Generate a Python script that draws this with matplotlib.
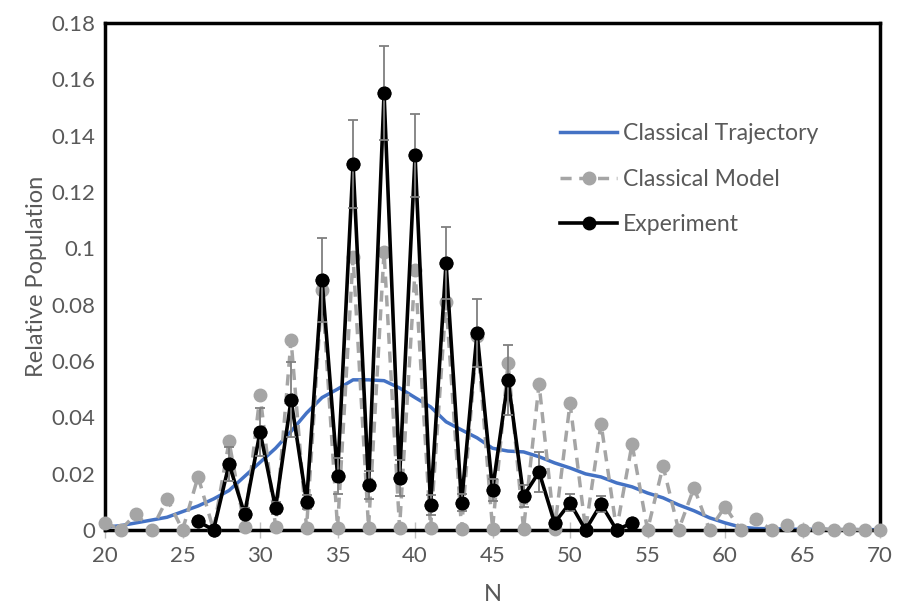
import matplotlib
matplotlib.use('Agg')
import matplotlib.pyplot as plt

plt.rcParams['font.family'] = ['Lato', 'DejaVu Sans']

# N values
n_all = list(range(20, 71))
n_exp = list(range(26, 55))

# Classical Trajectory (smooth blue curve)
trajectory = [0.001, 0.0015, 0.0025, 0.0035, 0.0045, 0.0065, 0.0085, 0.011, 0.014, 0.019,
              0.024, 0.029, 0.035, 0.0415, 0.047, 0.050, 0.0533, 0.0533, 0.053, 0.0504,
              0.047, 0.0437, 0.0384, 0.0355, 0.0327, 0.029, 0.028, 0.0277, 0.026, 0.0238,
              0.022, 0.0199, 0.0188, 0.0167, 0.0153, 0.0131, 0.0114, 0.0089, 0.0068, 0.0043,
              0.0025, 0.001, 0.0005, 0.0004, 0.0003, 0.0002, 0.0002, 0.0001, 0.0001, 0.0001,
              0.0001]

# Classical Model (grey dashed with markers)
model = [0.0026, 0.0, 0.0057, 0.0, 0.011, 0.0, 0.0189, 0.0, 0.0314, 0.0012,
         0.048, 0.0012, 0.0675, 0.0007, 0.0853, 0.0007, 0.097, 0.0008, 0.0988, 0.0007,
         0.0924, 0.0006, 0.081, 0.0005, 0.069, 0.0004, 0.0593, 0.0003, 0.0519, 0.0002,
         0.045, 0.0001, 0.0377, 0.0001, 0.0305, 0.0, 0.0227, 0.0, 0.015, 0.0,
         0.0083, 0.0, 0.0039, 0.0, 0.0018, 0.0, 0.0007, 0.0, 0.0003, 0.0,
         0.0]

# Experiment with error bars
experiment = [0.003, 0.0, 0.0234, 0.0057, 0.0348, 0.0078, 0.0462, 0.010, 0.0888, 0.0192,
              0.130, 0.016, 0.1551, 0.0185, 0.133, 0.0089, 0.0948, 0.0096, 0.070, 0.0142,
              0.0533, 0.012, 0.0206, 0.0025, 0.0096, 0.0, 0.0092, 0.0, 0.0025]
exp_err = [0.001, 0.0005, 0.006, 0.002, 0.0085, 0.002, 0.0133, 0.0025, 0.015, 0.0065,
           0.0157, 0.005, 0.0166, 0.0065, 0.0148, 0.0035, 0.0128, 0.003, 0.012, 0.004,
           0.0125, 0.004, 0.007, 0.001, 0.003, 0.0005, 0.003, 0.0005, 0.001]

text_color = '#595959'

fig = plt.figure(figsize=(8.98, 6.07), dpi=100)
ax = fig.add_axes([0.117, 0.127, 0.863, 0.835])

ax.plot(n_all, trajectory, color='#4472C4', lw=2.5, label='Classical Trajectory', zorder=2)
ax.plot(n_all, model, color='#A5A5A5', lw=2.5, ls=(0, (3.2, 2.2)), marker='o', ms=9,
        label='Classical Model', zorder=3, clip_on=False)
ax.plot(n_exp, experiment, color='black', lw=2.6, marker='o', ms=9,
        label='Experiment', zorder=4, clip_on=False)
# error bars sit over the line but under the markers
ax.errorbar(n_exp, experiment, yerr=exp_err, fmt='none', ecolor='#7f7f7f', elinewidth=1.3,
            capsize=3.5, capthick=1.3, zorder=5)
ax.plot(n_exp, experiment, ls='none', color='black', marker='o', ms=9, zorder=6, clip_on=False)

ax.set_xlim(20, 70)
ax.set_ylim(0, 0.18)
ax.set_xticks(range(20, 71, 5))
ax.set_yticks([i * 0.02 for i in range(10)])
ax.set_yticklabels(['0', '0.02', '0.04', '0.06', '0.08', '0.1', '0.12', '0.14', '0.16', '0.18'])

ax.tick_params(axis='x', direction='inout', length=11, width=1, color='#bfbfbf',
               labelsize=16, labelcolor=text_color, pad=6)
ax.tick_params(axis='y', length=0, labelsize=16, labelcolor=text_color, pad=7)

for side in ['top', 'right', 'left', 'bottom']:
    ax.spines[side].set_color('black')
    ax.spines[side].set_linewidth(2.5)

ax.set_xlabel('N', fontsize=17, color=text_color, labelpad=13)
ax.set_ylabel('Relative Population', fontsize=17, color=text_color, labelpad=3)

ax.legend(loc='center left', bbox_to_anchor=(0.56, 0.692), frameon=False, fontsize=16.6,
          labelcolor=text_color, handlelength=2.5, labelspacing=1.05, handletextpad=0.25)

fig.savefig('out.png', dpi=100)
